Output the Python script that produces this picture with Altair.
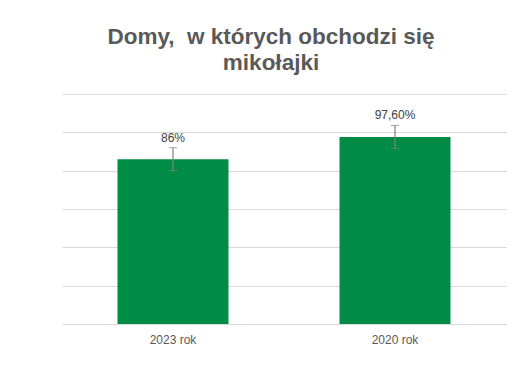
import altair as alt
import pandas as pd

categories = ["2023 rok", "2020 rok"]
values = [86.0, 97.6]
labels = ["86%", "97,60%"]
err = [6.0, 6.0]

df = pd.DataFrame({
    "cat": categories,
    "val": values,
    "label": labels,
    "lo": [v - e for v, e in zip(values, err)],
    "hi": [v + e for v, e in zip(values, err)],
})

xaxis = alt.Axis(labelAngle=0, ticks=False, domain=False, labelColor="#595959",
                 labelFontSize=12, labelFont="Liberation Sans", labelPadding=10)
xscale = alt.Scale(paddingInner=0.5, paddingOuter=0.25)
yscale = alt.Scale(domain=[0, 120])
yaxis = alt.Axis(values=[0, 20, 40, 60, 80, 100, 120], labels=False, ticks=False,
                 domain=False, gridColor="#d9d9d9", gridWidth=1)


def X():
    return alt.X("cat:N", sort=categories, title=None, scale=xscale, axis=xaxis)


def Y(f):
    return alt.Y(f, scale=yscale, title=None, axis=yaxis)


base = alt.Chart(df)
bars = base.mark_bar(color="#008C45").encode(x=X(), y=Y("val:Q"))
rule = base.mark_rule(color="#808080", strokeWidth=1.2).encode(
    x=X(), y=Y("lo:Q"), y2="hi:Q")
caps_hi = base.mark_tick(color="#808080", orient="horizontal", size=8, thickness=1).encode(
    x=X(), y=Y("hi:Q"))
caps_lo = base.mark_tick(color="#808080", orient="horizontal", size=8, thickness=1).encode(
    x=X(), y=Y("lo:Q"))
text = base.mark_text(dy=-10, fontSize=12, color="#404040", font="Liberation Sans").encode(
    x=X(), y=Y("hi:Q"), text="label:N")

chart = alt.layer(bars, rule, caps_hi, caps_lo, text).properties(
    width=444, height=230,
    title=alt.TitleParams(["Domy,\u00a0 w których obchodzi się", "mikołajki"], fontSize=22.5,
                          font="Liberation Sans", fontWeight="bold", color="#595959",
                          anchor="middle", offset=20, lineHeight=26, dx=-13),
    autosize=alt.AutoSizeParams(type="none"),
    padding={"left": 54, "top": 86, "right": 17, "bottom": 44},
).configure_view(stroke=None)

chart.save("out.html", embed_options={"renderer": "svg", "actions": False})
